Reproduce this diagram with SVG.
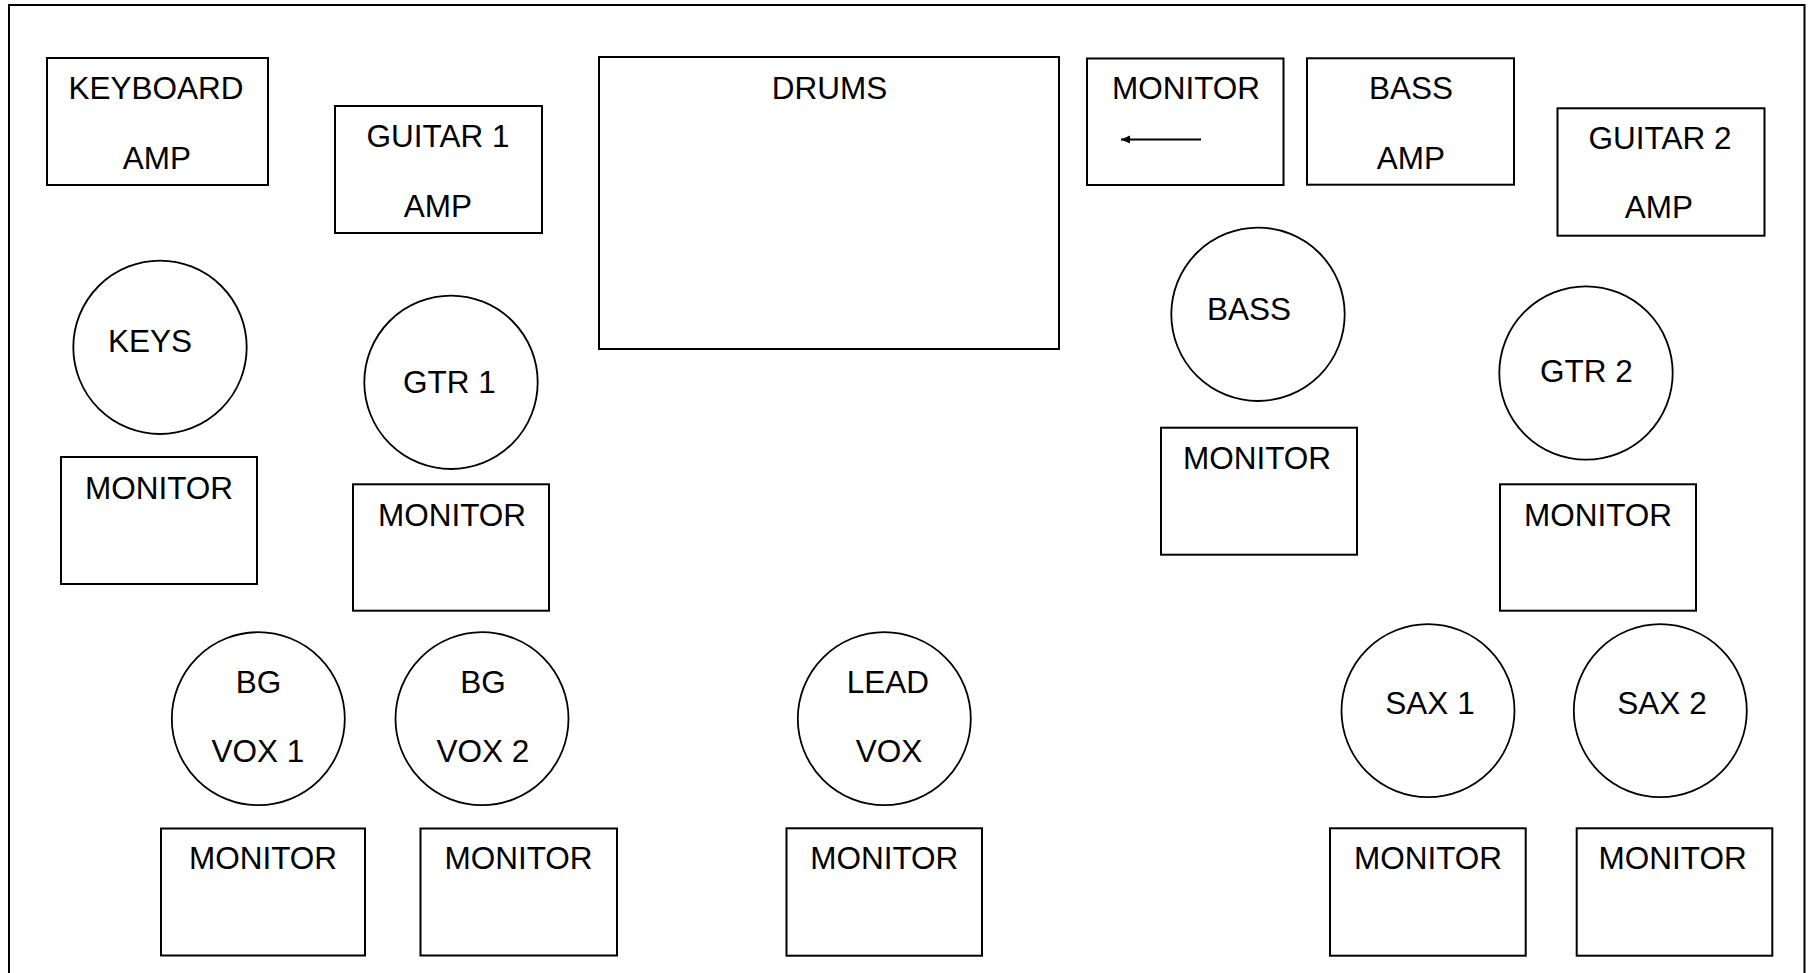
<svg xmlns="http://www.w3.org/2000/svg" width="1811" height="973" viewBox="0 0 1811 973">
<style>
.b{fill:#fff;stroke:#000;stroke-width:2}
.c{fill:#fff;stroke:#000;stroke-width:1.8}
text{font-family:"Liberation Sans",Arial,sans-serif;font-size:31.5px;fill:#000;text-anchor:middle}
</style>
<defs>
<marker id="ah" markerWidth="10" markerHeight="10" refX="9" refY="4" orient="auto" markerUnits="userSpaceOnUse">
<path d="M0,0 L9,4 L0,8 Z" fill="#000"/>
</marker>
</defs>
<rect width="1811" height="973" fill="#fff"/>
<g id="stage"><path d="M9,985 V5 H1804.5 V985" fill="none" stroke="#000" stroke-width="2"/></g>
<g id="keyboard-amp"><rect class="b" x="47" y="58" width="221" height="127"/><text x="156" y="99">KEYBOARD</text><text x="157" y="169">AMP</text></g>
<g id="guitar1-amp"><rect class="b" x="335" y="106" width="207" height="127"/><text x="438" y="147">GUITAR 1</text><text x="438" y="217">AMP</text></g>
<g id="drums"><rect class="b" x="599" y="57" width="460" height="292"/><text x="829.5" y="99">DRUMS</text></g>
<g id="drum-monitor"><rect class="b" x="1087" y="58.5" width="196.5" height="126.5"/><text x="1186" y="99">MONITOR</text></g>
<g id="bass-amp"><rect class="b" x="1307" y="58.3" width="207" height="126.4"/><text x="1411" y="99">BASS</text><text x="1411" y="169">AMP</text></g>
<g id="guitar2-amp"><rect class="b" x="1557.5" y="108.3" width="207" height="127.4"/><text x="1660" y="149">GUITAR 2</text><text x="1659" y="218.3">AMP</text></g>
<g id="keys"><circle class="c" cx="160" cy="347.3" r="86.7"/><text x="150" y="352">KEYS</text></g>
<g id="keys-monitor"><rect class="b" x="61" y="457" width="196" height="127"/><text x="159" y="499">MONITOR</text></g>
<g id="gtr1"><circle class="c" cx="451" cy="382.3" r="86.7"/><text x="449.5" y="392.7">GTR 1</text></g>
<g id="gtr1-monitor"><rect class="b" x="353" y="484.3" width="196" height="126.4"/><text x="452" y="525.7">MONITOR</text></g>
<g id="bass"><circle class="c" cx="1258" cy="314.3" r="86.7"/><text x="1249" y="320">BASS</text></g>
<g id="bass-monitor"><rect class="b" x="1161" y="427.7" width="196" height="127"/><text x="1257" y="469.3">MONITOR</text></g>
<g id="gtr2"><circle class="c" cx="1586" cy="373" r="86.7"/><text x="1586.4" y="381.7">GTR 2</text></g>
<g id="gtr2-monitor"><rect class="b" x="1500" y="484.3" width="196" height="126.4"/><text x="1598" y="525.7">MONITOR</text></g>
<g id="bgvox1"><circle class="c" cx="258.3" cy="718.7" r="86.5"/><text x="258.5" y="693.3">BG</text><text x="258" y="762.3">VOX 1</text></g>
<g id="bgvox2"><circle class="c" cx="482" cy="718.7" r="86.5"/><text x="483" y="693.3">BG</text><text x="483" y="762.3">VOX 2</text></g>
<g id="leadvox"><circle class="c" cx="884.3" cy="718.7" r="86.5"/><text x="887.8" y="693.3">LEAD</text><text x="889" y="762.3">VOX</text></g>
<g id="sax1"><circle class="c" cx="1428" cy="710.7" r="86.5"/><text x="1430" y="713.7">SAX 1</text></g>
<g id="sax2"><circle class="c" cx="1660.3" cy="710.7" r="86.5"/><text x="1662" y="713.7">SAX 2</text></g>
<g id="bgvox1-monitor"><rect class="b" x="161" y="828.5" width="204" height="127"/><text x="263" y="869.3">MONITOR</text></g>
<g id="bgvox2-monitor"><rect class="b" x="420.5" y="828.5" width="196.5" height="127"/><text x="518.5" y="869.3">MONITOR</text></g>
<g id="leadvox-monitor"><rect class="b" x="786.5" y="828.3" width="195.5" height="127.4"/><text x="884.3" y="869.3">MONITOR</text></g>
<g id="sax1-monitor"><rect class="b" x="1330" y="828.3" width="195.7" height="127.4"/><text x="1428" y="869.3">MONITOR</text></g>
<g id="sax2-monitor"><rect class="b" x="1576.7" y="828.3" width="195.6" height="127.4"/><text x="1672.7" y="869.3">MONITOR</text></g>
<g id="connectors"><line x1="1201" y1="139.5" x2="1121" y2="139.5" stroke="#000" stroke-width="2" marker-end="url(#ah)"/></g>
</svg>
